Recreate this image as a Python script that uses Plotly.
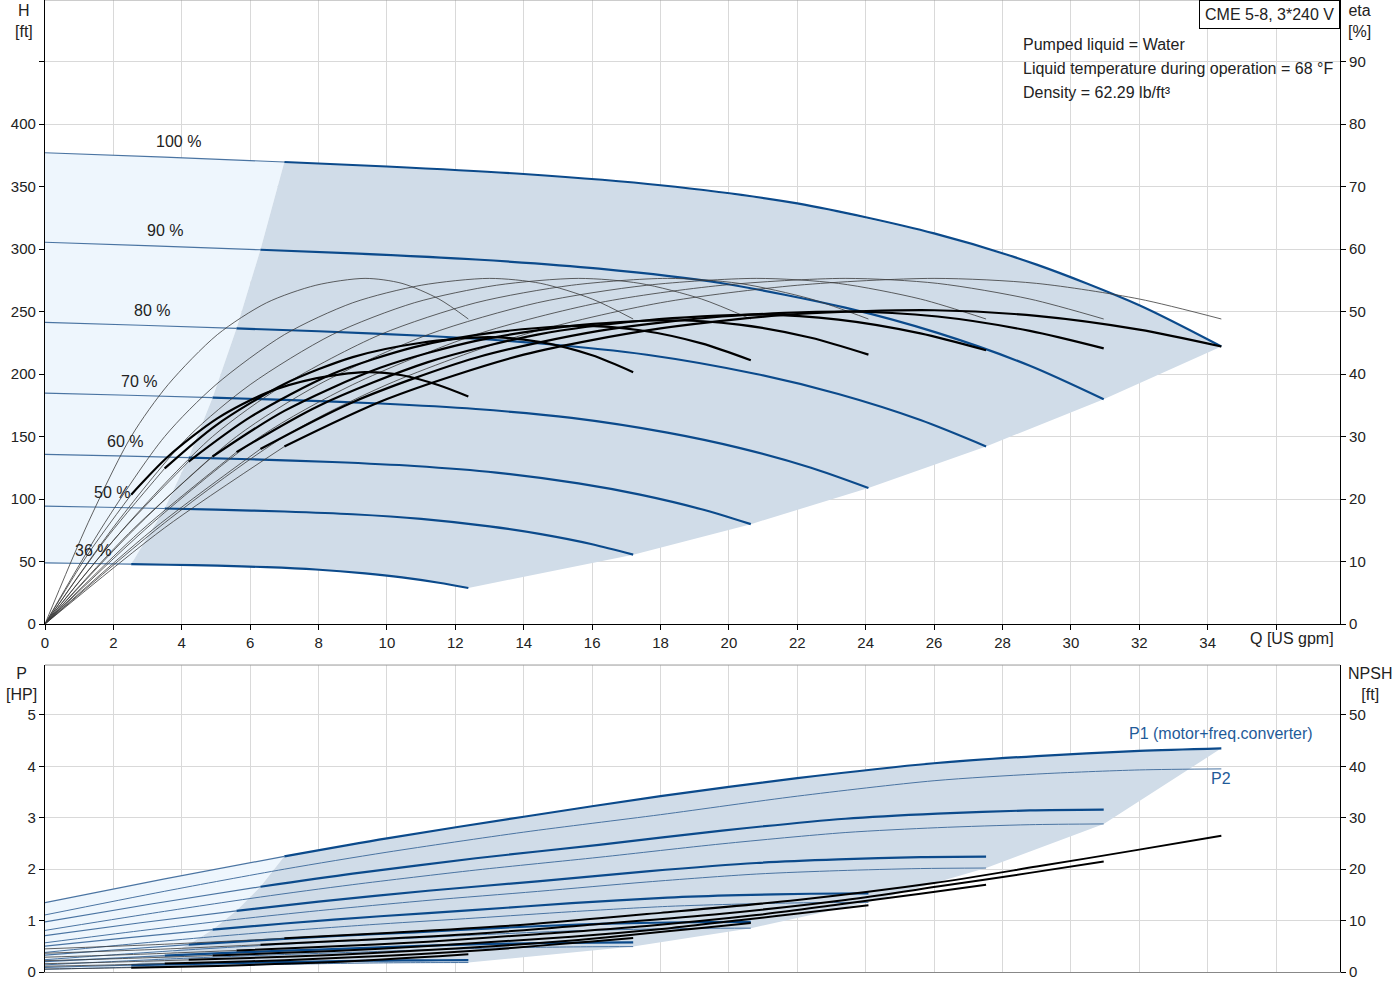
import plotly.graph_objects as go

# Speed curves of a CME 5-8 (100 % ... 36 %).  Each row is one speed,
# index 2 of every row is where the operating (dark) range starts.
SPEEDS = ["100 %", "90 %", "80 %", "70 %", "60 %", "50 %", "36 %"]

# flow [US gpm]
Q = [
    [0, 3.5, 7.0, 10, 14, 18, 22, 26, 29, 32, 34.4],
    [0, 3.15, 6.3, 9, 12.6, 16.2, 19.8, 23.4, 26.1, 28.8, 30.96],
    [0, 2.8, 5.6, 8, 11.2, 14.4, 17.6, 20.8, 23.2, 25.6, 27.52],
    [0, 2.45, 4.9, 7, 9.8, 12.6, 15.4, 18.2, 20.3, 22.4, 24.08],
    [0, 2.1, 4.2, 6, 8.4, 10.8, 13.2, 15.6, 17.4, 19.2, 20.64],
    [0, 1.75, 3.5, 5, 7, 9, 11, 13, 14.5, 16, 17.2],
    [0, 1.26, 2.52, 3.6, 5.04, 6.48, 7.92, 9.36, 10.44, 11.52, 12.38],
]

# head [ft]
H = [
    [377, 373.5, 369.6, 366, 360, 351, 336.5, 312.5, 287.5, 255, 222],
    [305.4, 302.5, 299.4, 296.5, 291.6, 284.3, 272.6, 253.1, 232.9, 206.6, 179.8],
    [241.3, 239.0, 236.5, 234.2, 230.4, 224.6, 215.4, 200.0, 184.0, 163.2, 142.1],
    [184.7, 183.0, 181.1, 179.3, 176.4, 172.0, 164.9, 153.1, 140.9, 125.0, 108.8],
    [135.7, 134.5, 133.1, 131.8, 129.6, 126.4, 121.1, 112.5, 103.5, 91.8, 79.9],
    [94.3, 93.4, 92.4, 91.5, 90.0, 87.8, 84.1, 78.1, 71.9, 63.8, 55.5],
    [48.9, 48.4, 47.9, 47.4, 46.7, 45.5, 43.6, 40.5, 37.3, 33.0, 28.8],
]

# pump efficiency [%] (same shape for every speed)
ETA_PUMP = [0, 16.2, 30.0, 38.3, 46.3, 51.4, 54.2, 55.3, 54.5, 52.0, 48.8]

# total efficiency pump+motor+converter [%]
ETA_TOTAL = [
    [0, 15.4, 28.4, 36.0, 43.1, 47.3, 49.6, 50.2, 49.3, 47.1, 44.4],
    [0, 15.1, 28.0, 35.5, 42.6, 46.9, 49.2, 50.0, 49.2, 46.9, 44.1],
    [0, 14.9, 27.5, 34.9, 41.9, 46.3, 48.6, 49.5, 48.7, 46.5, 43.8],
    [0, 14.5, 26.8, 34.1, 41.0, 45.3, 47.7, 48.6, 47.9, 45.8, 43.1],
    [0, 14.0, 26.0, 33.1, 40.0, 44.3, 46.7, 47.7, 47.0, 44.9, 42.2],
    [0, 13.4, 24.9, 31.8, 38.4, 42.7, 45.0, 45.9, 45.1, 43.0, 40.3],
    [0, 11.2, 20.7, 26.8, 32.9, 37.0, 39.3, 40.3, 39.8, 38.2, 36.4],
]

# P1 (motor + freq. converter) [HP]
P1 = [
    [1.35, 1.81, 2.25, 2.6, 3.02, 3.42, 3.77, 4.06, 4.2, 4.3, 4.35],
    [0.973, 1.327, 1.658, 1.912, 2.212, 2.474, 2.750, 2.981, 3.081, 3.143, 3.158],
    [0.709, 0.958, 1.190, 1.369, 1.580, 1.763, 1.957, 2.120, 2.189, 2.233, 2.243],
    [0.502, 0.669, 0.824, 0.943, 1.084, 1.208, 1.338, 1.446, 1.494, 1.522, 1.530],
    [0.328, 0.433, 0.531, 0.606, 0.695, 0.772, 0.855, 0.923, 0.953, 0.971, 0.975],
    [0.202, 0.262, 0.319, 0.362, 0.414, 0.459, 0.507, 0.546, 0.562, 0.573, 0.576],
    [0.090, 0.112, 0.133, 0.150, 0.169, 0.186, 0.204, 0.219, 0.225, 0.228, 0.229],
]

# P2 (shaft) [HP]
P2 = [
    [1.11, 1.57, 2.0, 2.33, 2.72, 3.06, 3.42, 3.72, 3.85, 3.93, 3.95],
    [0.809, 1.144, 1.458, 1.699, 1.983, 2.231, 2.493, 2.712, 2.807, 2.865, 2.880],
    [0.568, 0.804, 1.024, 1.193, 1.393, 1.567, 1.751, 1.905, 1.971, 2.012, 2.022],
    [0.381, 0.539, 0.686, 0.799, 0.933, 1.050, 1.173, 1.276, 1.321, 1.348, 1.355],
    [0.240, 0.339, 0.432, 0.503, 0.588, 0.661, 0.739, 0.804, 0.832, 0.849, 0.853],
    [0.139, 0.196, 0.250, 0.291, 0.340, 0.383, 0.428, 0.465, 0.481, 0.491, 0.494],
    [0.052, 0.073, 0.093, 0.109, 0.127, 0.143, 0.160, 0.174, 0.180, 0.183, 0.184],
]

# NPSH [ft]
NPSH = [
    [4.5, 5.4, 6.55, 7.6, 9.2, 11.5, 14.0, 17.3, 20.5, 23.8, 26.5],
    [3.65, 4.37, 5.31, 6.16, 7.45, 9.32, 11.34, 14.01, 16.61, 19.28, 21.47],
    [2.88, 3.46, 4.19, 4.86, 5.89, 7.36, 8.96, 11.07, 13.12, 15.23, 16.96],
    [2.21, 2.65, 3.21, 3.72, 4.51, 5.64, 6.86, 8.48, 10.05, 11.66, 12.99],
    [1.62, 1.94, 2.36, 2.74, 3.31, 4.14, 5.04, 6.23, 7.38, 8.57, 9.54],
    [1.13, 1.35, 1.64, 1.90, 2.30, 2.88, 3.50, 4.33, 5.13, 5.95, 6.63],
    [0.58, 0.70, 0.85, 0.98, 1.19, 1.49, 1.81, 2.24, 2.66, 3.08, 3.43],
]

X_TICKS = list(range(0, 38, 2))
X_TICKTEXT = [str(v) for v in range(0, 36, 2)] + [""]

FONT = "Arial, Liberation Sans, sans-serif"
BLUE = "#0b4a8b"
BLUE_THIN = "#4a74a2"
BLACK_THIN = "#3a3a3a"
LIGHT_FILL = "#eef6fd"
DARK_FILL = "#d0dce8"
GRID = "#d9d9d9"
S = 2  # start index of operating range


def line(x, y, xa, ya, color, width):
    return go.Scatter(x=x, y=y, xaxis=xa, yaxis=ya, mode="lines",
                      line=dict(color=color, width=width, shape="spline", smoothing=0.8),
                      hoverinfo="skip", showlegend=False)


def area(x, y, xa, ya, color):
    return go.Scatter(x=x, y=y, xaxis=xa, yaxis=ya, mode="lines", fill="toself",
                      fillcolor=color, line=dict(width=0),
                      hoverinfo="skip", showlegend=False)


n = len(SPEEDS)
fig = go.Figure()

# ---------- top: QH + efficiency ----------
lx = Q[0][:S + 1] + [Q[i][S] for i in range(1, n)] + Q[n - 1][S - 1::-1]
ly = H[0][:S + 1] + [H[i][S] for i in range(1, n)] + H[n - 1][S - 1::-1]
fig.add_trace(area(lx, ly, "x", "y", LIGHT_FILL))
dx = Q[0][S:] + [Q[i][-1] for i in range(1, n)] + Q[n - 1][-2:S - 1:-1] + [Q[i][S] for i in range(n - 2, 0, -1)]
dy = H[0][S:] + [H[i][-1] for i in range(1, n)] + H[n - 1][-2:S - 1:-1] + [H[i][S] for i in range(n - 2, 0, -1)]
fig.add_trace(area(dx, dy, "x", "y", DARK_FILL))

for i in range(n):
    fig.add_trace(line(Q[i], ETA_PUMP, "x", "y2", BLACK_THIN, 0.8))
    fig.add_trace(line(Q[i][:S + 1], ETA_TOTAL[i][:S + 1], "x", "y2", BLACK_THIN, 0.8))
    fig.add_trace(line(Q[i][:S + 1], H[i][:S + 1], "x", "y", BLUE_THIN, 1.2))
for i in range(n):
    fig.add_trace(line(Q[i][S:], H[i][S:], "x", "y", BLUE, 2.2))
for i in range(n):
    fig.add_trace(line(Q[i][S:], ETA_TOTAL[i][S:], "x", "y2", "black", 2.2))

# ---------- bottom: power + NPSH ----------
lx = Q[0][:S + 1] + [Q[i][S] for i in range(1, n)] + Q[n - 1][S::-1]
ly = P1[0][:S + 1] + [P1[i][S] for i in range(1, n)] + P2[n - 1][S::-1]
fig.add_trace(area(lx, ly, "x2", "y3", LIGHT_FILL))
dx = Q[0][S:] + [Q[i][-1] for i in range(1, n)] + Q[n - 1][-2:S - 1:-1] + [Q[i][S] for i in range(n - 1, 0, -1)]
dy = P1[0][S:] + [P2[i][-1] for i in range(1, n)] + P2[n - 1][-2:S - 1:-1] + [P1[i][S] for i in range(n - 1, 0, -1)]
fig.add_trace(area(dx, dy, "x2", "y3", DARK_FILL))

for i in range(n):
    fig.add_trace(line(Q[i], P2[i], "x2", "y3", BLUE_THIN, 1.0))
    fig.add_trace(line(Q[i][:S + 1], P1[i][:S + 1], "x2", "y3", BLUE_THIN, 1.2))
    fig.add_trace(line(Q[i][:S + 1], NPSH[i][:S + 1], "x2", "y4", BLACK_THIN, 0.8))
for i in range(n):
    fig.add_trace(line(Q[i][S:], P1[i][S:], "x2", "y3", BLUE, 2.2))
for i in range(n):
    fig.add_trace(line(Q[i][S:], NPSH[i][S:], "x2", "y4", "black", 2.0))

tick_font = dict(family=FONT, size=15, color="#222")
ax_common = dict(showline=True, linecolor="black", linewidth=1.2, ticks="outside",
                 ticklen=5, tickcolor="black", tickfont=tick_font, zeroline=False,
                 automargin=False)

fig.update_layout(
    width=1400, height=1000,
    margin=dict(l=45, r=60, t=0, b=28),
    paper_bgcolor="white", plot_bgcolor="white",
    font=dict(family=FONT, size=15, color="#222"),
    showlegend=False,
    xaxis=dict(domain=[0, 1], anchor="y", range=[0, 37.87], tickvals=X_TICKS, ticktext=X_TICKTEXT,
               showgrid=True, gridcolor=GRID, **ax_common),
    yaxis=dict(domain=[0.358, 1], anchor="x", range=[0, 499.2],
               tickvals=list(range(0, 500, 50)), ticktext=[str(v) for v in range(0, 450, 50)] + [""],
               showgrid=True, gridcolor=GRID, **ax_common),
    yaxis2=dict(overlaying="y", side="right", anchor="x", range=[0, 99.84],
                tickvals=list(range(0, 100, 10)), showgrid=False, **ax_common),
    xaxis2=dict(domain=[0, 1], anchor="y3", matches="x", range=[0, 37.87], tickvals=X_TICKS,
                showticklabels=False, showgrid=True, gridcolor=GRID, showline=True,
                linecolor="#888", linewidth=1.2, zeroline=False, automargin=False),
    yaxis3=dict(domain=[0, 0.3158], anchor="x2", range=[0, 5.97], tickvals=list(range(0, 6)),
                showgrid=True, gridcolor=GRID, **ax_common),
    yaxis4=dict(overlaying="y3", side="right", anchor="x2", range=[0, 59.7],
                tickvals=list(range(0, 60, 10)), showgrid=False, **ax_common),
)

# frame lines on top of each panel
fig.add_shape(type="line", xref="paper", yref="paper", x0=0, x1=1, y0=1, y1=1,
              line=dict(color="#999", width=1))
fig.add_shape(type="line", xref="paper", yref="paper", x0=0, x1=1, y0=0.3158, y1=0.3158,
              line=dict(color="#999", width=1))

# speed labels
label_pos = [(3.89, 386), (3.51, 315), (3.13, 251), (2.75, 194), (2.34, 146), (1.96, 105), (1.40, 59)]
for txt, (qx, hy) in zip(SPEEDS, label_pos):
    fig.add_annotation(x=qx, y=hy, xref="x", yref="y", text=txt, showarrow=False,
                       xanchor="center", font=dict(family=FONT, size=16, color="#222"))

# axis titles
ann = dict(showarrow=False, xref="paper", yref="paper", font=dict(family=FONT, size=16, color="#222"))
fig.add_annotation(x=-0.0162, y=1.0, xanchor="center", yanchor="top", text="H<br>[ft]", **ann)
fig.add_annotation(x=1.0154, y=1.0, xanchor="center", yanchor="top", text="eta<br>[%]", **ann)
fig.add_annotation(x=-0.0178, y=0.3178, xanchor="center", yanchor="top", text="P<br>[HP]", **ann)
fig.add_annotation(x=1.0232, y=0.3178, xanchor="center", yanchor="top", text="NPSH<br>[ft]", **ann)
fig.add_annotation(x=0.963, y=0.3426, xanchor="center", yanchor="middle", text="Q [US gpm]", **ann)

# info block
info = ["Pumped liquid = Water",
        "Liquid temperature during operation = 68 °F",
        "Density = 62.29 lb/ft³"]
for k, t in enumerate(info):
    fig.add_annotation(x=0.7537, y=0.9547 - k * 0.0247, xanchor="left", yanchor="middle", text=t, **ann)

fig.add_annotation(x=1.0, y=1.0, xanchor="right", yanchor="top", text="CME 5-8, 3*240 V",
                   bordercolor="black", borderwidth=1, borderpad=5, bgcolor="white", **ann)

# power labels
fig.add_annotation(x=34.4, y=4.63, xref="x2", yref="y3", text="P1 (motor+freq.converter)",
                   showarrow=False, xanchor="center", font=dict(family=FONT, size=16, color="#1f5b99"))
fig.add_annotation(x=34.4, y=3.77, xref="x2", yref="y3", text="P2",
                   showarrow=False, xanchor="center", font=dict(family=FONT, size=16, color="#1f5b99"))

fig.write_html("out.html", config={"displayModeBar": False},
               post_script="document.body.style.margin='0';")
